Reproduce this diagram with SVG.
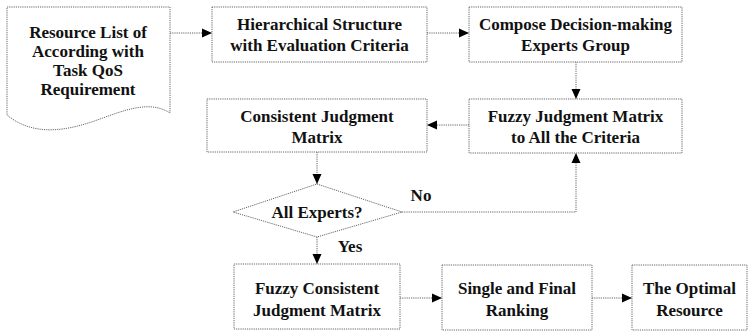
<svg xmlns="http://www.w3.org/2000/svg" width="749" height="333" viewBox="0 0 749 333">
<defs>
<style>
.box{fill:#fff;stroke:#666;stroke-width:1;stroke-dasharray:1.2 1}
.t{font-family:"Liberation Serif","Times New Roman",serif;font-weight:bold;font-size:17px;fill:#111;text-anchor:middle}
.c{fill:none;stroke:#666;stroke-width:1;stroke-dasharray:1.2 1}
</style>
<marker id="ah" markerUnits="userSpaceOnUse" markerWidth="10" markerHeight="10" viewBox="0 0 10 10" refX="10" refY="5" orient="auto">
<path d="M0,0.5 L10,5 L0,9.5 Z" fill="#000"/>
</marker>
</defs>
<rect width="749" height="333" fill="#fff"/>
<g id="connectors">
<path class="c" d="M170,33 H212" marker-end="url(#ah)"/>
<path class="c" d="M427,33 H469" marker-end="url(#ah)"/>
<path class="c" d="M576,62 V99" marker-end="url(#ah)"/>
<path class="c" d="M469,125 H427" marker-end="url(#ah)"/>
<path class="c" d="M317,152 V184" marker-end="url(#ah)"/>
<path class="c" d="M402,212 H576 V153" marker-end="url(#ah)"/>
<path class="c" d="M317,237 V264" marker-end="url(#ah)"/>
<path class="c" d="M400,298 H442" marker-end="url(#ah)"/>
<path class="c" d="M592,298 H632" marker-end="url(#ah)"/>
<text class="t" x="421" y="201">No</text>
<text class="t" x="350" y="252">Yes</text>
</g>
<g id="resource-list">
<path class="box" d="M7,7 H170 V113 C150,100 125,110 100,119 C70,130 35,138 7,115 Z"/>
<text class="t" x="88" y="38">Resource List of</text>
<text class="t" x="88" y="57">According with</text>
<text class="t" x="88" y="76">Task QoS</text>
<text class="t" x="88" y="95">Requirement</text>
</g>
<g id="hierarchical">
<rect class="box" x="212" y="7" width="215" height="55"/>
<text class="t" x="319.5" y="30">Hierarchical Structure</text>
<text class="t" x="319.5" y="51">with Evaluation Criteria</text>
</g>
<g id="compose">
<rect class="box" x="469" y="7" width="213" height="55"/>
<text class="t" x="575.5" y="30">Compose Decision-making</text>
<text class="t" x="575.5" y="51">Experts Group</text>
</g>
<g id="fuzzy-judgment">
<rect class="box" x="469" y="99" width="213" height="54"/>
<text class="t" x="575.5" y="122">Fuzzy Judgment Matrix</text>
<text class="t" x="575.5" y="143">to All the Criteria</text>
</g>
<g id="consistent">
<rect class="box" x="207" y="99" width="220" height="53"/>
<text class="t" x="317" y="122">Consistent Judgment</text>
<text class="t" x="317" y="143">Matrix</text>
</g>
<g id="all-experts">
<path class="box" d="M317,184 L402,212 L317,237 L233,212 Z"/>
<text class="t" x="317" y="218">All Experts?</text>
</g>
<g id="fuzzy-consistent">
<rect class="box" x="234" y="264" width="166" height="65"/>
<text class="t" x="317" y="294">Fuzzy Consistent</text>
<text class="t" x="317" y="316">Judgment Matrix</text>
</g>
<g id="ranking">
<rect class="box" x="442" y="265" width="150" height="65"/>
<text class="t" x="517" y="294">Single and Final</text>
<text class="t" x="517" y="316">Ranking</text>
</g>
<g id="optimal">
<rect class="box" x="632" y="265" width="115" height="65"/>
<text class="t" x="689.5" y="294">The Optimal</text>
<text class="t" x="689.5" y="316">Resource</text>
</g>
</svg>
